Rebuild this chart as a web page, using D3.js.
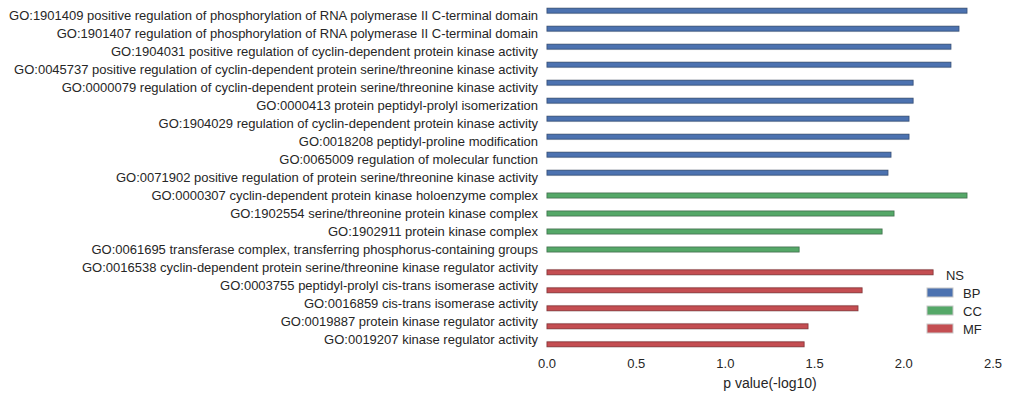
<!DOCTYPE html>
<html>
<head>
<meta charset="utf-8">
<script src="https://cdn.jsdelivr.net/npm/d3@7"></script>
<style>
  body { margin: 0; background: #fff; }
  text { font-family: "Liberation Sans", Arial, sans-serif; fill: #262626; }
</style>
</head>
<body>
<script>
// GO terms, their namespace and -log10 p values
var terms = [
  "GO:1901409 positive regulation of phosphorylation of RNA polymerase II C-terminal domain",
  "GO:1901407 regulation of phosphorylation of RNA polymerase II C-terminal domain",
  "GO:1904031 positive regulation of cyclin-dependent protein kinase activity",
  "GO:0045737 positive regulation of cyclin-dependent protein serine/threonine kinase activity",
  "GO:0000079 regulation of cyclin-dependent protein serine/threonine kinase activity",
  "GO:0000413 protein peptidyl-prolyl isomerization",
  "GO:1904029 regulation of cyclin-dependent protein kinase activity",
  "GO:0018208 peptidyl-proline modification",
  "GO:0065009 regulation of molecular function",
  "GO:0071902 positive regulation of protein serine/threonine kinase activity",
  "GO:0000307 cyclin-dependent protein kinase holoenzyme complex",
  "GO:1902554 serine/threonine protein kinase complex",
  "GO:1902911 protein kinase complex",
  "GO:0061695 transferase complex, transferring phosphorus-containing groups",
  "GO:0016538 cyclin-dependent protein serine/threonine kinase regulator activity",
  "GO:0003755 peptidyl-prolyl cis-trans isomerase activity",
  "GO:0016859 cis-trans isomerase activity",
  "GO:0019887 protein kinase regulator activity",
  "GO:0019207 kinase regulator activity"
];
var ns = ["BP","BP","BP","BP","BP","BP","BP","BP","BP","BP",
          "CC","CC","CC","CC",
          "MF","MF","MF","MF","MF"];
var pvals = [2.354, 2.309, 2.264, 2.264, 2.052, 2.052, 2.029, 2.029, 1.928, 1.911,
             2.354, 1.945, 1.878, 1.413,
             2.164, 1.766, 1.743, 1.463, 1.441];
var groups = ["BP", "CC", "MF"];
var xTicks = [0, 0.5, 1.0, 1.5, 2.0, 2.5];

var svg = d3.select('body')
            .append('svg')
            .attr('width', 1009)
            .attr('height', 397);

var x = d3.scaleLinear().domain([0, 2.5]).range([547, 993]);
var y = d3.scaleBand().domain(terms).range([6.5, 348.5]);

var color = d3.scaleOrdinal().domain(groups).range(['#4C72B0', '#55A868', '#C44E52']);
var edge = d3.scaleOrdinal().domain(groups).range(['#33507f', '#3b7a4b', '#8e3236']);

// seaborn style dodge: every category has one slot per hue
var slot = d3.scaleBand().domain(groups).range([-0.4, 0.4]);

var data = terms.map(function(t, i) { return {term: t, ns: ns[i], p: pvals[i]}; });

var bars = svg.append('g');
bars.selectAll('rect.halo')
    .data(data)
    .enter()
    .append('rect')
    .attr('x', x(0) - 0.5)
    .attr('y', function(d) { return y(d.term) + y.bandwidth() * (0.5 + slot(d.ns)) - 1; })
    .attr('width', function(d) { return x(d.p) - x(0) + 1; })
    .attr('height', y.bandwidth() * slot.bandwidth() + 2)
    .attr('fill', '#d4d4d4');

bars.selectAll('rect.bar')
    .data(data)
    .enter()
    .append('rect')
    .attr('x', x(0))
    .attr('y', function(d) { return y(d.term) + y.bandwidth() * (0.5 + slot(d.ns)); })
    .attr('width', function(d) { return x(d.p) - x(0); })
    .attr('height', y.bandwidth() * slot.bandwidth())
    .attr('fill', function(d) { return color(d.ns); })
    .attr('stroke', function(d) { return edge(d.ns); })
    .attr('stroke-width', 0.8);

// y labels
svg.append('g')
   .selectAll('text')
   .data(terms)
   .enter()
   .append('text')
   .attr('x', 538)
   .attr('y', function(d) { return y(d) + y.bandwidth() / 2; })
   .attr('dy', '0.35em')
   .attr('text-anchor', 'end')
   .style('font-size', '13px')
   .text(function(d) { return d; });

// x tick labels
svg.append('g')
   .selectAll('text')
   .data(xTicks)
   .enter()
   .append('text')
   .attr('x', function(d) { return x(d); })
   .attr('y', 363)
   .attr('dy', '0.35em')
   .attr('text-anchor', 'middle')
   .style('font-size', '13px')
   .text(d3.format('.1f'));

svg.append('text')
   .attr('x', x(1.25))
   .attr('y', 383)
   .attr('dy', '0.35em')
   .attr('text-anchor', 'middle')
   .style('font-size', '14px')
   .text('p value(-log10)');

// legend
var legend = svg.append('g').attr('transform', 'translate(927,275)');
legend.append('text')
      .attr('x', 28)
      .attr('y', 0)
      .attr('dy', '0.35em')
      .attr('text-anchor', 'middle')
      .style('font-size', '13px')
      .text('NS');

var items = legend.selectAll('g.item')
                  .data(groups)
                  .enter()
                  .append('g')
                  .attr('transform', function(d, i) { return 'translate(0,' + (18 + i * 18) + ')'; });
items.append('rect')
     .attr('x', 0)
     .attr('y', -5)
     .attr('width', 26)
     .attr('height', 9)
     .attr('fill', function(d) { return color(d); })
     .attr('stroke', '#c8c8c8')
     .attr('stroke-width', 1);
items.append('text')
     .attr('x', 36)
     .attr('y', 0)
     .attr('dy', '0.35em')
     .style('font-size', '13px')
     .text(function(d) { return d; });
</script>
</body>
</html>
